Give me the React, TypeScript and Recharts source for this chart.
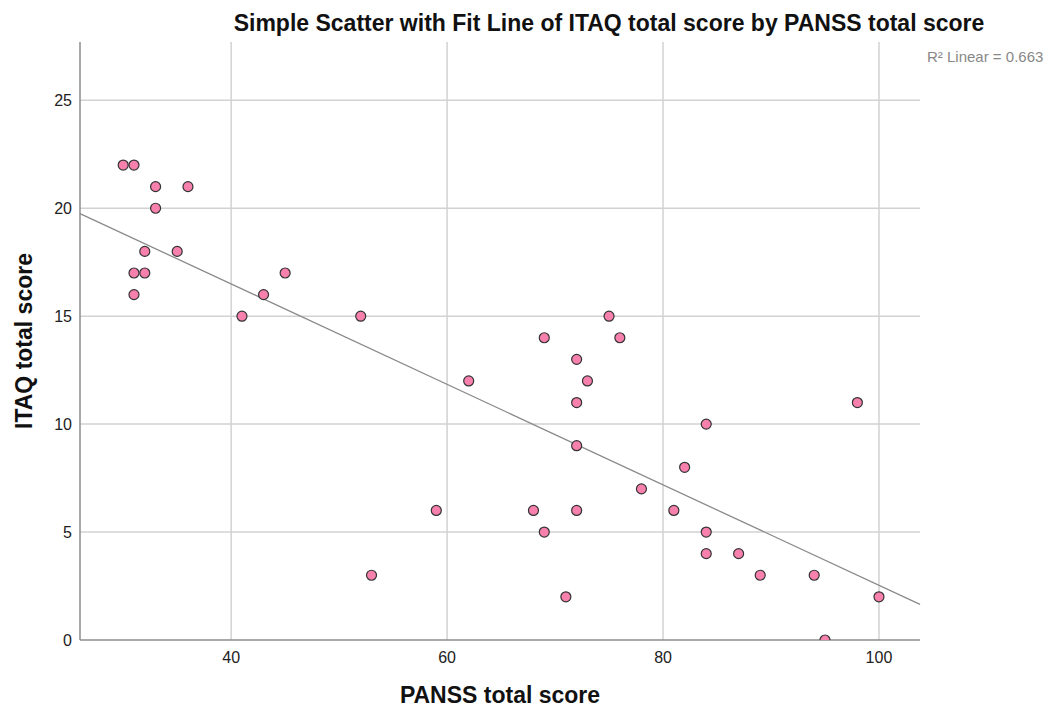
import { ReferenceLine, Scatter, ScatterChart, XAxis, YAxis } from "recharts";

// PANSS total score (x) and ITAQ total score (y), one entry per case
const panss = [30, 31, 33, 36, 33, 32, 35, 31, 32, 45, 31, 43, 41, 52, 62, 69, 75, 72, 76, 73, 72, 72, 84, 98, 82, 78, 59, 68, 72, 81, 69, 84, 84, 87, 89, 94, 53, 71, 100, 95];
const itaq = [22, 22, 21, 21, 20, 18, 18, 17, 17, 17, 16, 16, 15, 15, 12, 14, 15, 13, 14, 12, 11, 9, 10, 11, 8, 7, 6, 6, 6, 6, 5, 5, 4, 4, 3, 3, 3, 2, 2, 0];

// fit line end points, read at the plot edges
const fitX = [26, 103.8];
const fitY = [19.75, 1.65];

const xTicks = [40, 60, 80, 100];
const yTicks = [0, 5, 10, 15, 20, 25];

const FONT = "'Liberation Sans', Arial, sans-serif";
const GRID = "#d2d2d2";

const points = panss.map((x, i) => ({ x, y: itaq[i] }));

const Dot = (props: any) => (
  <circle cx={props.cx} cy={props.cy} r={5} fill="#f780ad" stroke="#333" strokeWidth={1.2} />
);

export default function App() {
  return (
    <div style={{ position: "absolute", left: 0, top: 0, width: 1049, height: 708, fontFamily: FONT }}>
      <div
        style={{
          position: "absolute",
          left: 609,
          top: 12,
          transform: "translateX(-50%)",
          whiteSpace: "nowrap",
          fontSize: 23,
          lineHeight: "23px",
          fontWeight: "bold",
          color: "#111",
        }}
      >
        Simple Scatter with Fit Line of ITAQ total score by PANSS total score
      </div>
      <div
        style={{
          position: "absolute",
          left: 927,
          top: 49,
          whiteSpace: "nowrap",
          fontSize: 15,
          lineHeight: "15px",
          color: "#888",
        }}
      >
        R² Linear = 0.663
      </div>
      <ScatterChart width={1049} height={708} margin={{ top: 42, right: 129, bottom: 38, left: 40 }}>
        {/* grid lines at tick values only, no frame at the top or right */}
        {xTicks.map((t) => (
          <ReferenceLine key={"gx" + t} x={t} stroke={GRID} strokeWidth={1.5} />
        ))}
        {yTicks
          .filter((t) => t > 0)
          .map((t) => (
            <ReferenceLine key={"gy" + t} y={t} stroke={GRID} strokeWidth={1.5} />
          ))}
        <XAxis
          type="number"
          dataKey="x"
          domain={[26, 103.8]}
          ticks={xTicks}
          allowDataOverflow
          height={30}
          tickLine={false}
          tickMargin={6}
          stroke="#8c8c8c"
          strokeWidth={1.5}
          tick={{ fill: "#222", fontSize: 16, fontFamily: FONT }}
          label={{
            value: "PANSS total score",
            position: "bottom",
            offset: 17,
            style: { fontSize: 23, fontWeight: "bold", fill: "#111", fontFamily: FONT },
          }}
        />
        <YAxis
          type="number"
          dataKey="y"
          domain={[0, 27.7]}
          ticks={yTicks}
          allowDataOverflow
          width={40}
          tickLine={false}
          stroke="#8c8c8c"
          strokeWidth={1.5}
          tick={{ fill: "#222", fontSize: 16, fontFamily: FONT }}
          label={{
            value: "ITAQ total score",
            angle: -90,
            position: "insideLeft",
            offset: -16,
            style: { fontSize: 23, fontWeight: "bold", fill: "#111", fontFamily: FONT, textAnchor: "middle" },
          }}
        />
        <ReferenceLine
          segment={[
            { x: fitX[0], y: fitY[0] },
            { x: fitX[1], y: fitY[1] },
          ]}
          stroke="#8a8a8a"
          strokeWidth={1.3}
        />
        <Scatter data={points} shape={Dot} isAnimationActive={false} />
      </ScatterChart>
    </div>
  );
}
